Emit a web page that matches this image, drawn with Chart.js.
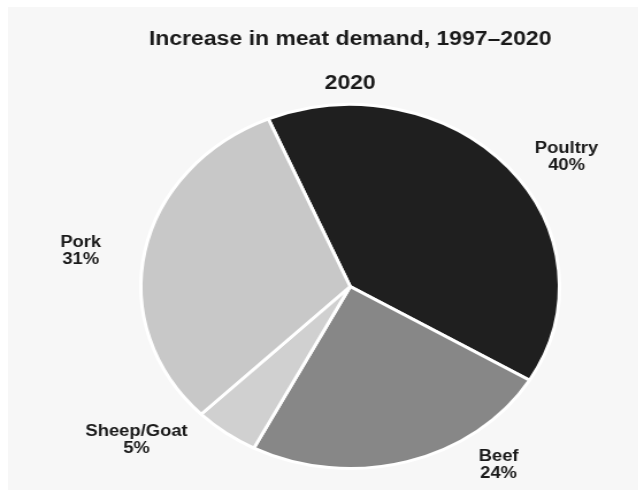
<!DOCTYPE html>
<html>
<head>
<meta charset="utf-8">
<script src="https://cdn.jsdelivr.net/npm/chart.js@4.4.0/dist/chart.umd.min.js"></script>
<style>
  html, body { margin:0; padding:0; background:#ffffff; width:638px; height:491px; overflow:hidden; }
  #panel { position:absolute; left:8px; top:7px; width:630px; height:483px; background:#f7f7f7; }
  #wrap { position:absolute; left:0; top:0; width:555px; height:491px; transform:scaleX(1.15); transform-origin:0 0; }
</style>
</head>
<body>
<div id="panel"></div>
<div id="wrap"><canvas id="c" width="555" height="491"></canvas></div>
<script>
// ---- data ----
const categories = ['Poultry', 'Beef', 'Sheep/Goat', 'Pork'];
const shares = [40, 24, 5, 31];
const sliceColors = ['#1f1f1f', '#878787', '#d0d0d0', '#c8c8c8'];
const titleLines = ['Increase in meat demand, 1997\u20132020', '2020'];

// label placement relative to each slice (angle shift in degrees, radius factor)
const labelPlacement = [
  { da: 6.4,   rf: 1.256 },
  { da: -20,   rf: 1.212 },
  { da: 14.1,  rf: 1.323 },
  { da: -2.6,  rf: 1.302 }
];

const FONT = '"Liberation Sans", Arial, sans-serif';

const sliceLabels = {
  id: 'sliceLabels',
  afterDatasetsDraw(chart, args, opts) {
    const meta = chart.getDatasetMeta(0);
    const ctx = chart.ctx;
    ctx.save();
    ctx.font = 'bold ' + opts.size + 'px ' + FONT;
    ctx.fillStyle = opts.color;
    ctx.textAlign = 'center';
    ctx.textBaseline = 'middle';
    meta.data.forEach((arc, i) => {
      const p = arc.getProps(['x', 'y', 'startAngle', 'endAngle', 'outerRadius'], true);
      const pl = labelPlacement[i];
      const a = (p.startAngle + p.endAngle) / 2 + pl.da * Math.PI / 180;
      const r = p.outerRadius * pl.rf;
      const lx = p.x + Math.cos(a) * r;
      const ly = p.y + Math.sin(a) * r;
      const lines = [categories[i], shares[i] + '%'];
      lines.forEach((t, k) => {
        ctx.fillText(t, lx, ly + (k - (lines.length - 1) / 2) * opts.lineHeight);
      });
    });
    ctx.restore();
  }
};

new Chart(document.getElementById('c'), {
  type: 'pie',
  data: {
    labels: categories,
    datasets: [{
      data: shares,
      backgroundColor: sliceColors,
      borderColor: '#ffffff',
      borderWidth: 3,
      hoverOffset: 0
    }]
  },
  options: {
    responsive: false,
    devicePixelRatio: 1,
    animation: false,
    rotation: -23,
    layout: { padding: { left: 54, right: 0, top: 0, bottom: 21 } },
    plugins: {
      legend: { display: false },
      tooltip: { enabled: false },
      title: {
        display: true,
        text: titleLines,
        color: '#1a1a1a',
        font: { family: FONT, size: 20, weight: 'bold', lineHeight: '44px' },
        padding: { top: 17, bottom: -2 }
      },
      sliceLabels: { size: 16, lineHeight: 17, color: '#1a1a1a' }
    }
  },
  plugins: [sliceLabels]
});
</script>
</body>
</html>
